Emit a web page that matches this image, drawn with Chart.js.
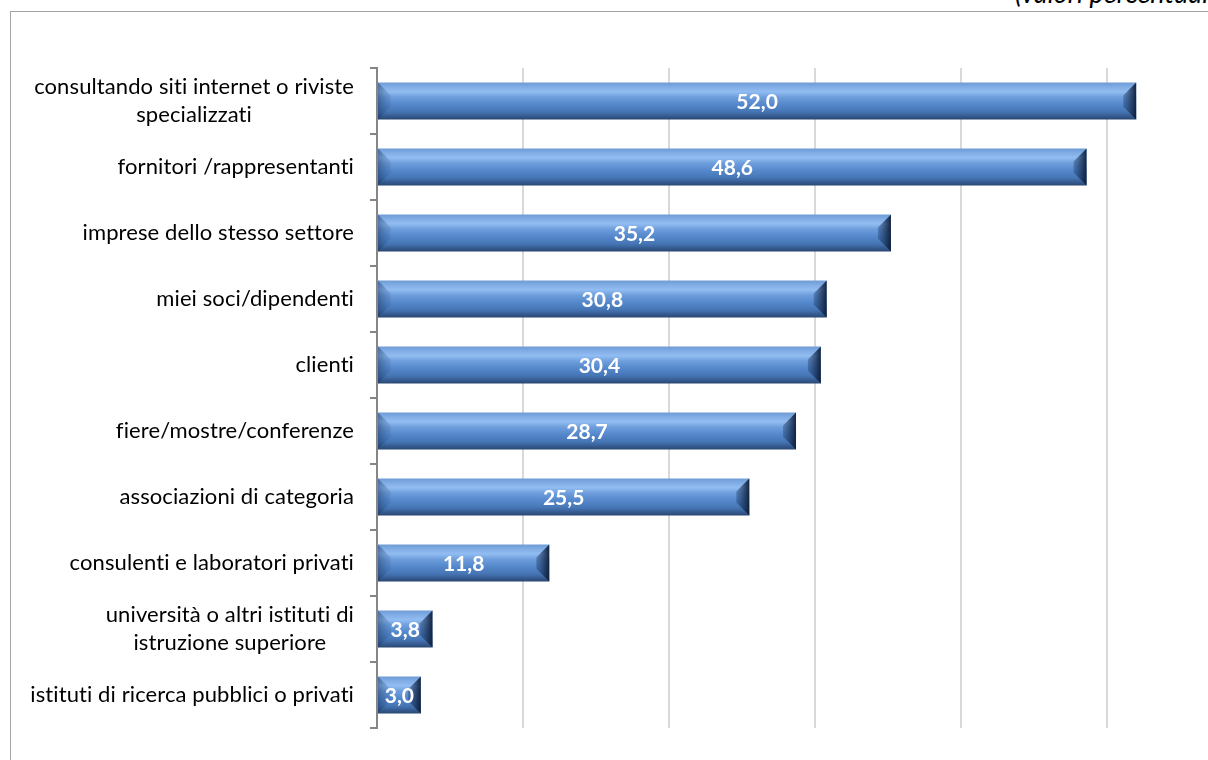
<!DOCTYPE html>
<html>
<head>
<meta charset="utf-8">
<script src="https://cdn.jsdelivr.net/npm/chart.js@4.4.1/dist/chart.umd.min.js"></script>
<style>
  html, body { margin:0; padding:0; background:#fff; overflow:hidden; width:1208px; height:760px; }
  #frame { position:absolute; left:10px; top:11px; width:1400px; height:900px; border:1px solid #a3a3a3; box-sizing:border-box; }
  #note { position:absolute; left:1015px; top:-22px; font:italic 27px Lato, "Open Sans", sans-serif; color:#000; white-space:nowrap; line-height:30px; }
  #wrap { position:absolute; left:0; top:0; width:1290px; height:760px; }
</style>
</head>
<body>
<div id="frame"></div>
<div id="note">(valori percentuali)</div>
<div id="wrap"><canvas id="chart"></canvas></div>
<script>
// ===== Data =====
const CATEGORIES = [
  ["consultando siti internet o riviste", "specializzati"],
  ["fornitori /rappresentanti"],
  ["imprese dello stesso settore"],
  ["miei soci/dipendenti"],
  ["clienti"],
  ["fiere/mostre/conferenze"],
  ["associazioni di categoria"],
  ["consulenti e laboratori privati"],
  ["università o altri istituti di", "istruzione superiore"],
  ["istituti di ricerca pubblici o privati"]
];
const VALUES = [52.0, 48.6, 35.2, 30.8, 30.4, 28.7, 25.5, 11.8, 3.8, 3.0];
const X_MAX = 60;
const X_STEP = 10;

const BAR_PCT = 0.56;
const FONT = 'Lato, "Open Sans", sans-serif';
const fmt = v => v.toFixed(1).replace('.', ',');

// ===== Bar fill: vertical gradient, placed from the y scale =====
function barFill(ctx) {
  const chart = ctx.chart, ys = chart.scales.y;
  if (!ys || !Number.isFinite(ys.height) || ys.height <= 0) return '#5487cb';
  const h = ys.height / CATEGORIES.length * BAR_PCT;
  const top = ys.getPixelForValue(ctx.dataIndex) - h / 2;
  if (!Number.isFinite(top)) return '#5487cb';
  const g = chart.ctx.createLinearGradient(0, top, 0, top + h);
  g.addColorStop(0.00, '#6f9bd6');
  g.addColorStop(0.10, '#7eaae3');
  g.addColorStop(0.25, '#92bdf2');
  g.addColorStop(0.40, '#6d9ddb');
  g.addColorStop(0.60, '#5487cb');
  g.addColorStop(0.80, '#4574b3');
  g.addColorStop(0.92, '#34598c');
  g.addColorStop(1.00, '#2a4670');
  return g;
}

// ===== Bevel edges on each bar =====
const bevel = {
  id: 'bevel',
  afterDatasetsDraw(chart) {
    const c = chart.ctx;
    chart.getDatasetMeta(0).data.forEach(el => {
      const x0 = el.base, x1 = el.x, y0 = el.y - el.height / 2, y1 = el.y + el.height / 2;
      const b = Math.min(13, (x1 - x0) / 3);
      c.save();
      // left end
      let g = c.createLinearGradient(x0, 0, x0 + b, 0);
      g.addColorStop(0, 'rgba(20,45,85,0.45)');
      g.addColorStop(1, 'rgba(40,80,140,0.10)');
      c.fillStyle = g;
      c.beginPath();
      c.moveTo(x0, y0); c.lineTo(x0 + b, y0 + b); c.lineTo(x0 + b, y1 - b); c.lineTo(x0, y1);
      c.closePath(); c.fill();
      // right end
      g = c.createLinearGradient(x1 - b, 0, x1, 0);
      g.addColorStop(0, 'rgba(30,60,105,0.35)');
      g.addColorStop(1, 'rgba(12,28,55,0.95)');
      c.fillStyle = g;
      c.beginPath();
      c.moveTo(x1, y0); c.lineTo(x1 - b, y0 + b); c.lineTo(x1 - b, y1 - b); c.lineTo(x1, y1);
      c.closePath(); c.fill();
      c.restore();
    });
  }
};

// ===== Value labels inside bars =====
const valueLabels = {
  id: 'valueLabels',
  afterDatasetsDraw(chart) {
    const c = chart.ctx;
    c.save();
    c.font = 'bold 21px ' + FONT;
    c.fillStyle = '#ffffff';
    c.textAlign = 'center';
    c.textBaseline = 'middle';
    chart.getDatasetMeta(0).data.forEach((el, i) => {
      c.fillText(fmt(VALUES[i]), (el.x + el.base) / 2, el.y + 1);
    });
    c.restore();
  }
};

// ===== Category labels: right-aligned block, lines centred =====
const catLabels = {
  id: 'catLabels',
  afterDraw(chart) {
    const c = chart.ctx, ys = chart.scales.y;
    const right = 354, lh = 28;
    c.save();
    c.font = '22px ' + FONT;
    if ('letterSpacing' in c) c.letterSpacing = '0.1px';
    c.fillStyle = '#000';
    c.textBaseline = 'middle';
    c.textAlign = 'center';
    CATEGORIES.forEach((lines, i) => {
      const w = Math.max(...lines.map(l => c.measureText(l).width));
      const cx = right - w / 2;
      const yc = ys.getPixelForTick(i);
      lines.forEach((l, k) => {
        c.fillText(l, cx, yc + (k - (lines.length - 1) / 2) * lh);
      });
    });
    c.restore();
  }
};

new Chart(document.getElementById('chart'), {
  type: 'bar',
  data: {
    labels: CATEGORIES,
    datasets: [{
      data: VALUES,
      backgroundColor: barFill,
      borderWidth: 0,
      barPercentage: BAR_PCT,
      categoryPercentage: 1
    }]
  },
  options: {
    indexAxis: 'y',
    responsive: true,
    maintainAspectRatio: false,
    animation: false,
    layout: { padding: { left: 0, top: 68, right: 37, bottom: 32 } },
    plugins: { legend: { display: false }, tooltip: { enabled: false } },
    scales: {
      x: {
        min: 0, max: X_MAX,
        ticks: { display: false, stepSize: X_STEP },
        grid: { color: '#d9d9d9', lineWidth: 2, drawTicks: false },
        border: { display: false },
        afterFit: s => { s.height = 0; }
      },
      y: {
        offset: true,
        ticks: { display: false },
        grid: { offset: true, drawOnChartArea: false, drawTicks: true, tickLength: 7, color: '#868686', lineWidth: 2 },
        border: { display: true, color: '#868686', width: 2 },
        afterFit: s => { s.width = 377; }
      }
    }
  },
  plugins: [bevel, valueLabels, catLabels]
});
</script>
</body>
</html>
